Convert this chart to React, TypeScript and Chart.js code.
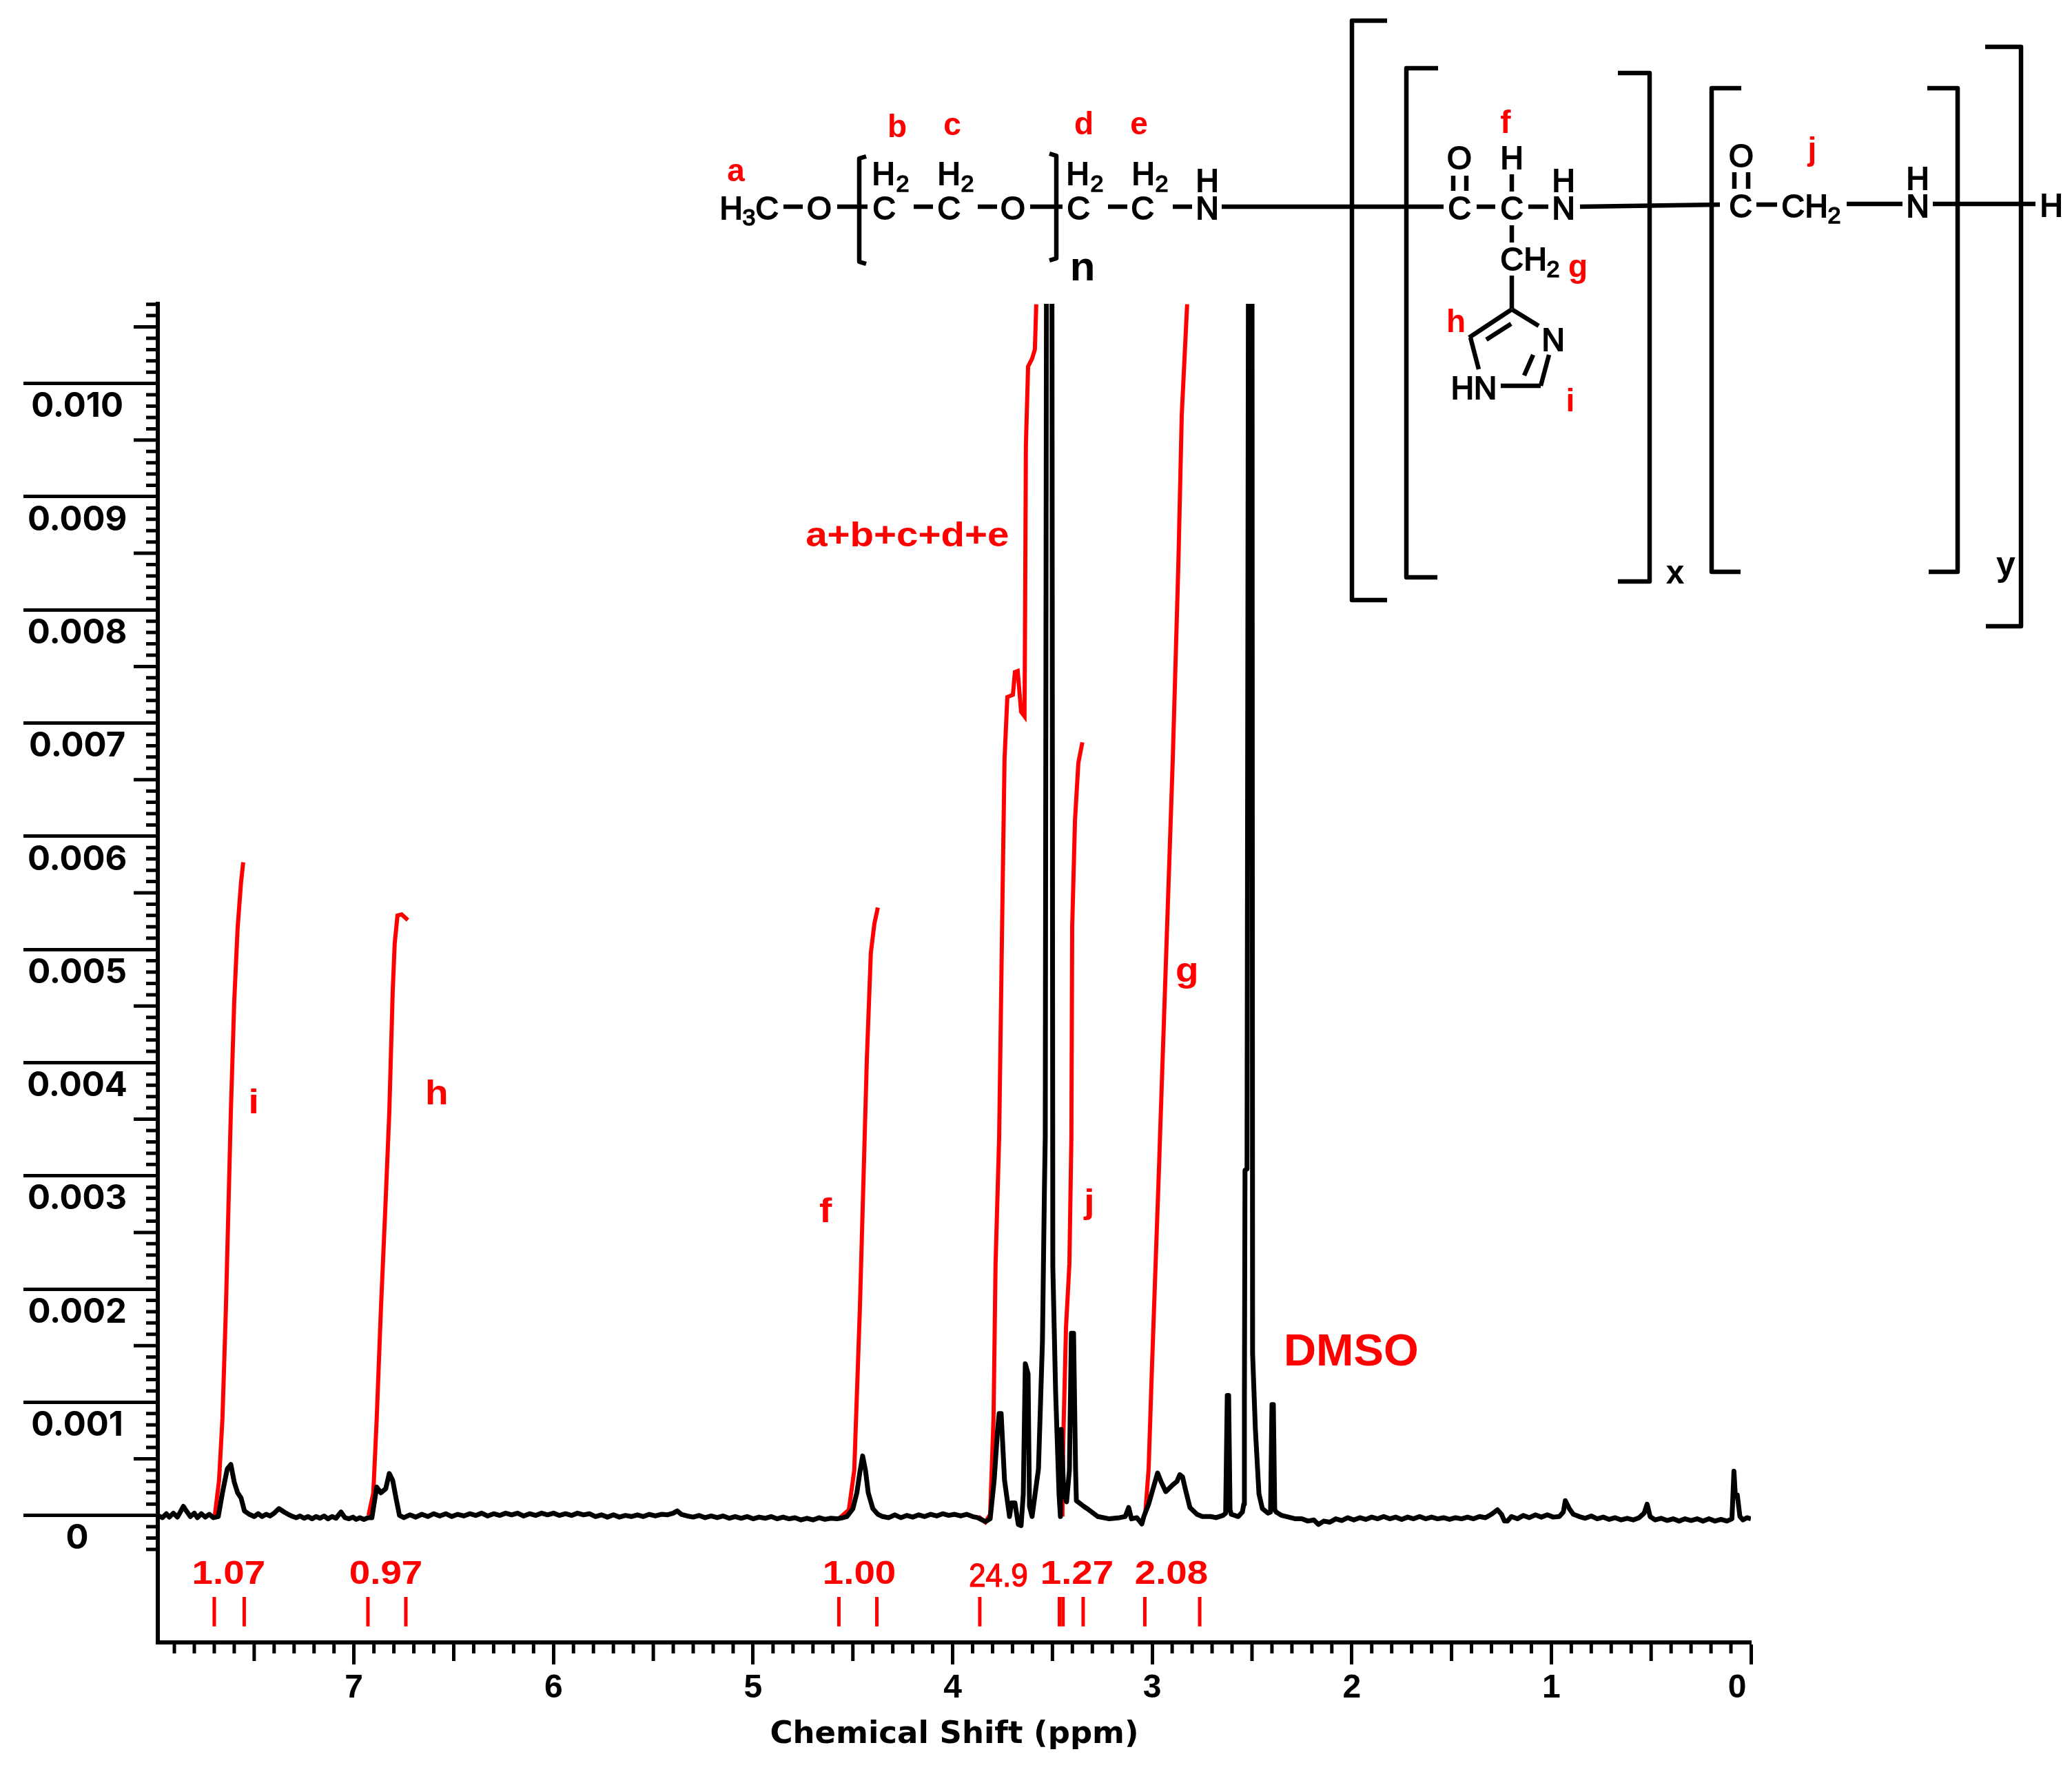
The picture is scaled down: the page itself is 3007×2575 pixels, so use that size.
import React, { useEffect, useRef } from "react";
import { Chart, registerables } from "chart.js";

Chart.register(...registerables);

// Axis ticks
const ppmMajorTicks = [7, 6, 5, 4, 3, 2, 1, 0];
const intensityMajorTicks = [0, 0.001, 0.002, 0.003, 0.004, 0.005, 0.006, 0.007, 0.008, 0.009, 0.01];
const xTitle = "Chemical Shift (ppm)";

// Spectrum, [ppm, intensity in units of 0.001]
const edgeLeft = [[7.983,0],[7.96,-.02],[7.94,.015],[7.925,-.015],[7.905,.02],[7.885,-.015],[7.87,.03],[7.855,.08],[7.84,.04],[7.82,-.01],[7.8,.02],[7.785,-.02],[7.765,.015],[7.745,-.015],[7.725,.01],[7.705,-.02]];
const peakI = [[7.68,-.01],[7.659,.2],[7.635,.41],[7.617,.45],[7.6,.295],[7.583,.2],[7.566,.155],[7.549,.04],[7.525,.01]];
const gapIH = [[7.5,-.01],[7.48,.015],[7.46,-.01],[7.44,.01],[7.42,-.005],[7.4,.02],[7.376,.06],[7.35,.03],[7.33,.01],[7.313,-.005],[7.29,-.02],[7.27,-.005],[7.25,-.025],[7.23,-.01],[7.21,-.03],[7.19,-.01],[7.17,-.025],[7.15,-.005],[7.13,-.03],[7.11,-.01],[7.09,-.025],[7.065,.03],[7.045,-.02],[7.025,-.03],[7.005,-.015],[6.989,-.035],[6.97,-.02],[6.95,-.035],[6.93,-.02]];
const peakH = [[6.91,-.02],[6.886,.25],[6.865,.2],[6.841,.235],[6.823,.37],[6.806,.31],[6.789,.15],[6.772,0]];
const gapHF = [[6.75,-.02],[6.72,.005],[6.69,-.015],[6.66,.01],[6.63,-.01],[6.6,.015],[6.57,-.005],[6.54,.015],[6.51,-.01],[6.48,.01],[6.45,-.005],[6.42,.015],[6.39,0],[6.36,.02],[6.33,-.005],[6.3,.015],[6.27,0],[6.24,.02],[6.21,.005],[6.18,.02],[6.15,-.005],[6.12,.015],[6.09,0],[6.06,.02],[6.03,.005],[6,.02],[5.97,0],[5.94,.015],[5.91,0],[5.88,.02],[5.85,.005],[5.82,.015],[5.79,-.01],[5.76,.005],[5.73,-.015],[5.7,.005],[5.67,-.015],[5.64,0],[5.61,-.01],[5.58,.005],[5.55,-.01],[5.52,.01],[5.49,-.005],[5.46,.01],[5.43,.005],[5.4,.02],[5.38,.04],[5.36,.01],[5.33,-.005],[5.3,-.015],[5.27,0],[5.24,-.02],[5.21,-.005],[5.18,-.02],[5.15,-.005],[5.12,-.025],[5.09,-.01],[5.06,-.025],[5.03,-.01],[5,-.03],[4.97,-.015],[4.94,-.025],[4.91,-.01],[4.88,-.03],[4.85,-.015],[4.82,-.03],[4.79,-.02],[4.76,-.04],[4.73,-.025],[4.7,-.04],[4.67,-.02],[4.64,-.035],[4.61,-.025],[4.58,-.03],[4.55,-.02]];
const peakF = [[4.53,-.01],[4.5,.06],[4.48,.2],[4.465,.38],[4.451,.525],[4.437,.4],[4.423,.2],[4.4,.06],[4.375,.01],[4.351,-.01]];
const gapFPeg = [[4.32,-.02],[4.29,.005],[4.26,-.02],[4.23,0],[4.2,-.015],[4.17,.005],[4.14,-.01],[4.11,.01],[4.08,-.005],[4.05,.015],[4.02,0],[3.99,.01],[3.96,-.005],[3.93,.01],[3.9,-.01],[3.875,-.02]];
const pegRegion = [[3.836,-.055],[3.812,-.03],[3.792,.31],[3.775,.75],[3.767,.9],[3.757,.9],[3.74,.31],[3.715,-.01],[3.705,.11],[3.688,.11],[3.671,-.08],[3.657,-.09],[3.646,.19],[3.636,1.34],[3.622,1.25],[3.615,.08],[3.602,-.01],[3.57,.41],[3.55,1.54],[3.54,2.89],[3.536,3.34],[3.529,12],[3.503,12],[3.498,2.2],[3.484,1.09],[3.467,.19],[3.46,-.01],[3.456,.76],[3.443,.19],[3.429,.12],[3.415,.4],[3.405,1.61],[3.394,1.61],[3.384,.4],[3.38,.13],[3.343,.08],[3.318,.05],[3.273,-.01],[3.215,-.03],[3.163,-.02],[3.135,-.01],[3.118,.07],[3.104,-.03],[3.077,-.02],[3.052,-.075]];
const gRegion = [[3.042,-.01],[3.018,.1],[2.973,.375],[2.956,.3],[2.932,.21],[2.897,.27],[2.876,.3],[2.862,.36],[2.848,.34],[2.835,.24],[2.811,.07],[2.776,.01],[2.749,-.01],[2.707,-.01],[2.68,-.02],[2.645,0],[2.632,.02]];
const dmsoRegion = [[2.624,1.06],[2.617,1.06],[2.61,.05],[2.604,.01],[2.569,-.01],[2.548,.03],[2.541,.1],[2.538,1],[2.535,3.05],[2.525,3.06],[2.517,12],[2.5,12],[2.497,1.43],[2.483,.76],[2.465,.19],[2.448,.06],[2.42,.02],[2.407,.03],[2.4,.98],[2.393,.98],[2.386,.05],[2.379,.03],[2.352,0],[2.327,-.01],[2.282,-.03]];
const edgeRight = [[2.25,-.03],[2.22,-.05],[2.19,-.04],[2.167,-.08],[2.14,-.05],[2.11,-.06],[2.08,-.03],[2.05,-.045],[2.02,-.02],[1.99,-.04],[1.96,-.02],[1.93,-.035],[1.9,-.015],[1.87,-.03],[1.84,-.01],[1.81,-.03],[1.78,-.015],[1.75,-.035],[1.72,-.015],[1.69,-.03],[1.66,-.01],[1.63,-.03],[1.6,-.015],[1.57,-.03],[1.54,-.02],[1.51,-.035],[1.48,-.02],[1.45,-.03],[1.42,-.015],[1.39,-.03],[1.36,-.01],[1.33,-.02],[1.3,.01],[1.27,.05],[1.25,.01],[1.235,-.05],[1.22,-.05],[1.2,-.01],[1.17,-.03],[1.14,0],[1.11,-.02],[1.08,.005],[1.05,-.015],[1.02,.005],[.99,-.015],[.96,-.01],[.94,.03],[.93,.13],[.91,.06],[.89,.01],[.86,-.01],[.83,-.025],[.8,-.005],[.77,-.03],[.74,-.015],[.71,-.035],[.68,-.02],[.65,-.04],[.62,-.025],[.59,-.04],[.56,-.02],[.535,.02],[.52,.1],[.505,-.01],[.48,-.04],[.45,-.025],[.42,-.045],[.39,-.03],[.36,-.05],[.33,-.03],[.3,-.045],[.27,-.03],[.24,-.05],[.21,-.03],[.18,-.05],[.15,-.035],[.12,-.05],[.095,-.03],[.085,.39],[.078,.18],[.068,.18],[.055,-.01],[.04,-.04],[.02,-.02],[0,-.03]];

// Integral curves, [ppm, intensity in units of 0.001]
const integralI = [[7.697,0],[7.676,.31],[7.659,.858],[7.642,1.81],[7.628,2.79],[7.617,3.56],[7.6,4.54],[7.583,5.19],[7.566,5.59],[7.555,5.77]];
const integralH = [[6.927,0],[6.903,.2],[6.886,.856],[6.865,1.82],[6.841,2.79],[6.823,3.56],[6.806,4.62],[6.796,5.05],[6.782,5.3],[6.761,5.31],[6.73,5.26]];
const integralF = [[4.565,-.02],[4.52,.05],[4.493,.4],[4.465,1.82],[4.43,4.03],[4.41,4.97],[4.392,5.23],[4.375,5.37]];
const integralPeg = [[3.871,-.01],[3.836,-.06],[3.812,.01],[3.795,.87],[3.785,2.22],[3.767,3.34],[3.75,5.48],[3.74,6.68],[3.726,7.23],[3.698,7.25],[3.688,7.45],[3.674,7.46],[3.657,7.1],[3.64,7.06],[3.638,7.6],[3.633,9.45],[3.622,10.15],[3.602,10.22],[3.588,10.3],[3.581,10.7]];
const integralJ = [[3.45,-.01],[3.446,.64],[3.432,1.66],[3.415,2.22],[3.405,3.34],[3.401,5.2],[3.387,6.14],[3.37,6.65],[3.35,6.83]];
const integralG = [[3.035,.01],[3.018,.41],[3.001,1.32],[2.983,2.22],[2.965,3.12],[2.961,3.34],[2.897,6.68],[2.869,8.4],[2.852,9.72],[2.825,10.7]];

// Integral range markers and annotations
const integralBounds = [7.7, 7.55, 6.93, 6.74, 4.57, 4.38, 3.864, 3.465, 3.447, 3.346, 3.037, 2.762];
const boundsLevel = [-0.72, -0.98];
const integralTexts = [
  { t: "1.07", ppm: 7.628, v: -0.605, bold: true },
  { t: "0.97", ppm: 6.84, v: -0.605, bold: true },
  { t: "1.00", ppm: 4.468, v: -0.605, bold: true },
  { t: "24.9", ppm: 3.771, v: -0.629, bold: false },
  { t: "1.27", ppm: 3.377, v: -0.605, bold: true },
  { t: "2.08", ppm: 2.904, v: -0.605, bold: true },
];
const peakTexts = [
  { t: "i", ppm: 7.503, v: 3.552, size: 50, sx: 1.1 },
  { t: "h", ppm: 6.585, v: 3.631, size: 50, sx: 1.1 },
  { t: "f", ppm: 4.637, v: 2.59, size: 50, sx: 1.1 },
  { t: "j", ppm: 3.315, v: 2.67, size: 50, sx: 1.1 },
  { t: "g", ppm: 2.825, v: 4.715, size: 50, sx: 1.1 },
  { t: "a+b+c+d+e", ppm: 4.227, v: 8.56, size: 50, sx: 1.13 },
  { t: "DMSO", ppm: 2.003, v: 1.324, size: 64, sx: 1.02 },
];

// Structure drawing, canvas pixels
const structureLines = [
  [1137,300,1165,300],[1215,300,1259,300],[1326,300,1354,300],[1419,300,1447,300],[1495,300,1542,300],
  [1608,300,1636,300],[1702,300,1730,300],[1773,300,2095,300],[2143,300,2170,300],[2218,300,2247,300],
  [2293,300,2496,297],[2549,297,2579,297],[2680,296,2761,296],[2805,296,2954,296],
  [2109,255,2109,277],[2128,255,2128,277],[2194,253,2194,278],[2194,327,2194,352],[2194,400,2194,448],
  [2517,250,2517,274],[2537,250,2537,274],
  [2194,449,2233,473],[2194,449,2132,490],[2193,470,2157,493],[2134,490,2146,536],
  [2248,515,2236,560],[2225,515,2212,545],[2178,560,2236,560],
];
const structureBrackets = [
  [1257,227,1247,230,1247,380,1257,383],
  [1523,223,1533,226,1533,375,1523,378],
  [2013,30,1962,30,1962,871,2013,871],
  [2087,99,2041,99,2041,838,2086,838],
  [2348,106,2394,106,2394,844,2348,844],
  [2527,128,2484,128,2484,830,2526,830],
  [2797,128,2841,128,2841,830,2799,830],
  [2881,68,2933,68,2933,909,2882,909],
];
const atomTexts = [
  ["H",1061,318],["C",1113,318],["O",1189,318],["C",1283,318],["H",1282,268],["C",1377,318],["H",1377,268],["O",1470,318],
  ["C",1565,318],["H",1564,268],["C",1658,318],["H",1659,268],["N",1752,318],["H",1752,278],
  ["O",2118,245],["C",2118,318],["C",2194,318],["H",2194,245],["N",2269,318],["H",2269,278],
  ["C",2194,392],["H",2228,392],["N",2254,509],["HN",2139,579],
  ["O",2527,242],["C",2526,315],["C",2602,315],["H",2636,315],["N",2783,315],["H",2783,275],["H",2977,314],
];
const subscriptTexts = [
  ["3",1087,327],["2",1310,278],["2",1404,278],["2",1592,278],["2",1686,278],["2",2254,402],["2",2662,324],
];
const blackBoldTexts = [
  ["n",1571,407,60],["x",2431,847,48],["y",2911,836,50],
];
const redStructureTexts = [
  ["a",1068,263],["b",1302,199],["c",1382,196],["d",1573,195],["e",1653,195],["f",2185,193],["g",2290,402],["h",2113,482],["i",2279,597],["j",2630,232],
];

const spectrum = [
  ...edgeLeft, ...peakI, ...gapIH, ...peakH, ...gapHF, ...peakF, ...gapFPeg, ...pegRegion, ...gRegion, ...dmsoRegion, ...edgeRight,
];
const toPoints = (rows: number[][]) => rows.map(([x, v]) => ({ x, y: v * 1e-3 }));
const SANS = '"Liberation Sans", Arial, sans-serif';
const RED = "#ff0000";

function label(ctx: any, t: string, x: number, y: number, size: number, bold: boolean, color: string, sx = 1, stroke = 0) {
  ctx.save();
  ctx.translate(x, y);
  ctx.scale(sx, 1);
  ctx.font = `${bold ? "bold " : ""}${size}px ${SANS}`;
  ctx.textAlign = "center";
  ctx.textBaseline = "alphabetic";
  ctx.fillStyle = color;
  ctx.fillText(t, 0, 0);
  if (stroke) {
    ctx.lineWidth = stroke;
    ctx.strokeStyle = color;
    ctx.strokeText(t, 0, 0);
  }
  ctx.restore();
}

const detailPlugin = {
  id: "detail",
  beforeDatasetsDraw(chart: any) {
    const { ctx, scales } = chart;
    const xs = scales.x;
    const ys = scales.y;
    ctx.save();
    ctx.strokeStyle = "#000";
    ctx.lineWidth = 5;
    ctx.beginPath();
    for (let i = 1; i <= 79; i++) {
      if (i % 10 === 0) continue;
      const px = xs.getPixelForValue(i / 10);
      ctx.moveTo(px, xs.top);
      ctx.lineTo(px, xs.top + (i % 5 === 0 ? 27 : 16));
    }
    for (let i = -3; i <= 107; i++) {
      if (i % 10 === 0) continue;
      const py = ys.getPixelForValue(i * 1e-4);
      ctx.moveTo(ys.right, py);
      ctx.lineTo(ys.right - (i % 5 === 0 ? 35 : 17), py);
    }
    ctx.stroke();
    ctx.restore();
  },
  afterDatasetsDraw(chart: any) {
    const { ctx, scales } = chart;
    const xs = scales.x;
    const ys = scales.y;
    integralTexts.forEach((l) =>
      label(ctx, l.t, xs.getPixelForValue(l.ppm), ys.getPixelForValue(l.v * 1e-3), 48, l.bold, RED, l.bold ? 1.14 : 0.92, l.bold ? 0 : 1.2)
    );
    peakTexts.forEach((l) =>
      label(ctx, l.t, xs.getPixelForValue(l.ppm), ys.getPixelForValue(l.v * 1e-3), l.size, true, RED, l.sx)
    );
    ctx.save();
    ctx.strokeStyle = "#000";
    ctx.lineCap = "butt";
    ctx.lineJoin = "round";
    ctx.lineWidth = 6.5;
    structureLines.forEach(([a, b, c, d]) => {
      ctx.beginPath();
      ctx.moveTo(a, b);
      ctx.lineTo(c, d);
      ctx.stroke();
    });
    structureBrackets.forEach((p) => {
      ctx.beginPath();
      ctx.moveTo(p[0], p[1]);
      for (let i = 2; i < p.length; i += 2) ctx.lineTo(p[i], p[i + 1]);
      ctx.stroke();
    });
    ctx.restore();
    atomTexts.forEach(([t, x, y]) => label(ctx, t as string, x as number, y as number, 46, false, "#000", 1, 2));
    subscriptTexts.forEach(([t, x, y]) => label(ctx, t as string, x as number, y as number, 34, false, "#000", 1, 1.6));
    blackBoldTexts.forEach(([t, x, y, s]) => label(ctx, t as string, x as number, y as number, s as number, true, "#000"));
    redStructureTexts.forEach(([t, x, y]) => label(ctx, t as string, x as number, y as number, 46, true, RED));
  },
};

export default function App() {
  const ref = useRef<HTMLCanvasElement | null>(null);
  useEffect(() => {
    if (!ref.current) return;
    const red = (rows: number[][]) => ({
      data: toPoints(rows),
      borderColor: RED,
      borderWidth: 6,
      showLine: true,
      pointRadius: 0,
      tension: 0,
    });
    const chart = new Chart(ref.current, {
      type: "scatter",
      data: {
        datasets: [
          { label: "1H NMR", data: toPoints(spectrum), borderColor: "#000", borderWidth: 7, showLine: true, pointRadius: 0, tension: 0, borderJoinStyle: "round" },
          red(integralI),
          red(integralH),
          red(integralF),
          red(integralPeg),
          red(integralJ),
          red(integralG),
          {
            label: "integral ranges",
            data: integralBounds.flatMap((x) => [
              { x, y: boundsLevel[0] * 1e-3 },
              { x, y: boundsLevel[1] * 1e-3 },
              { x: NaN, y: NaN },
            ]),
            borderColor: RED,
            borderWidth: 5,
            showLine: true,
            pointRadius: 0,
            spanGaps: false,
          },
        ],
      } as any,
      options: {
        animation: false,
        responsive: false,
        devicePixelRatio: 1,
        layout: { padding: { top: 441, right: 466, left: 0, bottom: 0 } },
        plugins: { legend: { display: false }, tooltip: { enabled: false }, title: { display: false } },
        scales: {
          x: {
            type: "linear",
            reverse: true,
            min: 0,
            max: 7.983,
            afterBuildTicks: (s: any) => { s.ticks = ppmMajorTicks.map((value) => ({ value })); },
            afterFit: (s: any) => { s.height = 191; },
            border: { display: true, color: "#000", width: 6 },
            grid: { display: true, drawOnChartArea: false, drawTicks: true, tickLength: 32, tickWidth: 5, tickColor: "#000" },
            ticks: {
              color: "#000",
              autoSkip: false,
              maxRotation: 0,
              padding: 6,
              font: { family: SANS, size: 48, weight: "bold" },
              callback: (v: any) => (v === 0 ? "0\u00a0\u00a0\u00a0" : String(v)),
            },
            title: { display: true, text: xTitle, color: "#000", font: { family: '"DejaVu Sans", ' + SANS, size: 45, weight: "bold" }, padding: { top: 0, bottom: 30 } },
          },
          y: {
            type: "linear",
            min: -0.001122,
            max: 0.010704,
            afterBuildTicks: (s: any) => { s.ticks = intensityMajorTicks.map((value) => ({ value })); },
            afterFit: (s: any) => { s.width = 229; },
            border: { display: true, color: "#000", width: 6 },
            grid: { display: true, drawOnChartArea: false, drawTicks: true, tickLength: 195, tickWidth: 5, tickColor: "#000" },
            ticks: {
              color: "#000",
              autoSkip: false,
              padding: -151,
              crossAlign: "center",
              labelOffset: 34,
              font: { family: "Inter, " + SANS, size: 49, weight: "bold" },
              callback: (v: any) => (v === 0 ? "0" : Number(v).toFixed(3)),
            },
          },
        },
      } as any,
      plugins: [detailPlugin],
    });
    return () => chart.destroy();
  }, []);
  return (
    <div style={{ position: "fixed", left: 0, top: 0, width: 3007, height: 2575, background: "#fff" }}>
      <canvas ref={ref} width={3007} height={2575} style={{ display: "block", width: 3007, height: 2575 }} />
    </div>
  );
}
